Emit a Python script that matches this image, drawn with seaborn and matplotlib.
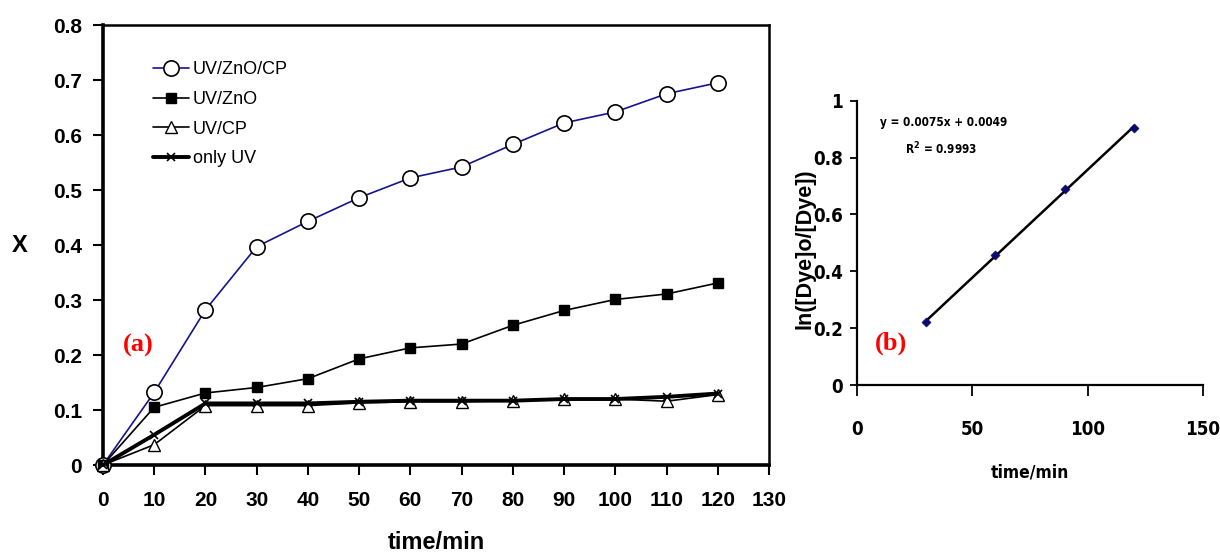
import numpy as np
import pandas as pd
import matplotlib
matplotlib.use("Agg")
import matplotlib.pyplot as plt
from matplotlib import font_manager
import seaborn as sns

# ---------------------------------------------------------------------------
# Data
# ---------------------------------------------------------------------------
time_min = [0, 10, 20, 30, 40, 50, 60, 70, 80, 90, 100, 110, 120]

x_uv_zno_cp = [0.0, 0.132, 0.282, 0.397, 0.443, 0.486, 0.522, 0.542, 0.583, 0.622, 0.642, 0.675, 0.695]
x_uv_zno    = [0.0, 0.105, 0.131, 0.141, 0.157, 0.193, 0.213, 0.220, 0.254, 0.281, 0.301, 0.311, 0.331]
x_uv_cp     = [0.0, 0.037, 0.108, 0.108, 0.108, 0.113, 0.115, 0.115, 0.117, 0.120, 0.120, 0.116, 0.128]
x_only_uv   = [0.0, 0.055, 0.112, 0.112, 0.112, 0.115, 0.117, 0.117, 0.117, 0.120, 0.120, 0.124, 0.130]

kin_time = [30, 60, 90, 120]
kin_ln   = [0.222, 0.456, 0.690, 0.903]

fit_label = "y = 0.0075x + 0.0049"
r2_label  = "R$^2$ = 0.9993"

x_ticks_a = [0, 10, 20, 30, 40, 50, 60, 70, 80, 90, 100, 110, 120, 130]
y_ticks_a = [0, 0.1, 0.2, 0.3, 0.4, 0.5, 0.6, 0.7, 0.8]
x_ticks_b = [0, 50, 100, 150]
y_ticks_b = [0, 0.2, 0.4, 0.6, 0.8, 1.0]

# ---------------------------------------------------------------------------
# Style
# ---------------------------------------------------------------------------
sns.set_style("white")
plt.rcParams["font.family"] = ["Liberation Sans", "DejaVu Sans"]
plt.rcParams["text.color"] = "black"
plt.rcParams["axes.labelcolor"] = "black"
plt.rcParams["xtick.color"] = "black"
plt.rcParams["ytick.color"] = "black"
plt.rcParams["mathtext.fontset"] = "custom"
plt.rcParams["mathtext.rm"] = "DejaVu Sans:bold"

# narrow face for panel (b), like Arial Narrow in the original
NARROW, NARROW_STRETCH = "Liberation Sans", "normal"
for f in font_manager.fontManager.ttflist:
    if f.name == "Liberation Sans Narrow":
        NARROW, NARROW_STRETCH = f.name, "normal"
        break
else:
    for f in font_manager.fontManager.ttflist:
        if f.name == "DejaVu Sans" and f.stretch in ("condensed", "semi-condensed"):
            NARROW, NARROW_STRETCH = "DejaVu Sans", "condensed"
            break

installed = {f.name for f in font_manager.fontManager.ttflist}
SERIF = "Liberation Serif" if "Liberation Serif" in installed else "DejaVu Serif"

fig = plt.figure(figsize=(12.2, 5.54), dpi=100)
ax1 = fig.add_axes([0.0844, 0.1606, 0.5459, 0.7942])
ax2 = fig.add_axes([0.7025, 0.3050, 0.2836, 0.5132])

# ---------------------------------------------------------------------------
# Panel (a)
# ---------------------------------------------------------------------------
df = pd.DataFrame({
    "time": time_min * 4,
    "X": x_uv_zno_cp + x_uv_zno + x_uv_cp + x_only_uv,
    "series": (["UV/ZnO/CP"] * len(time_min) + ["UV/ZnO"] * len(time_min)
               + ["UV/CP"] * len(time_min) + ["only UV"] * len(time_min)),
})

styles = {
    "UV/ZnO/CP": dict(color="#14148f", lw=1.2, marker="o", ms=11, mfc="white", mec="black", mew=1.2),
    "UV/ZnO":    dict(color="black", lw=1.2, marker="s", ms=7, mfc="black", mec="black", mew=1.0),
    "UV/CP":     dict(color="black", lw=1.2, marker="^", ms=9, mfc="white", mec="black", mew=1.0),
    "only UV":   dict(color="black", lw=2.8, marker="x", ms=6, mfc="black", mec="black", mew=1.2),
}

for name in ["UV/ZnO/CP", "UV/ZnO", "UV/CP", "only UV"]:
    st = styles[name]
    sub = df[df["series"] == name]
    sns.lineplot(data=sub, x="time", y="X", ax=ax1, label=name,
                 color=st["color"], linewidth=st["lw"], marker=st["marker"],
                 markersize=st["ms"], markerfacecolor=st["mfc"],
                 markeredgecolor=st["mec"], markeredgewidth=st["mew"],
                 clip_on=False, zorder=3)

ax1.set_xlim(0, 130)
ax1.set_ylim(0, 0.8)
ax1.set_xticks(x_ticks_a)
ax1.set_yticks(y_ticks_a)
ax1.set_xticklabels([str(t) for t in x_ticks_a])
ax1.set_yticklabels(["0" if v == 0 else f"{v:.1f}" for v in y_ticks_a])
ax1.tick_params(axis="x", direction="out", length=7, width=1.5, pad=12,
                labelsize=15, bottom=True)
ax1.tick_params(axis="y", direction="out", length=7, width=1.5, pad=8,
                labelsize=15, left=True)
for lab in ax1.get_xticklabels() + ax1.get_yticklabels():
    lab.set_fontweight("bold")

for side in ["left", "bottom"]:
    ax1.spines[side].set_linewidth(2.6)
    ax1.spines[side].set_color("black")
for side in ["top", "right"]:
    ax1.spines[side].set_linewidth(1.8)
    ax1.spines[side].set_color("black")
    ax1.spines[side].set_visible(True)

ax1.set_xlabel("time/min", fontsize=17, fontweight="bold", va="center")
ax1.xaxis.set_label_coords(0.5, -0.176)
ax1.set_ylabel("X", fontsize=17, fontweight="bold", rotation=0, va="center")
ax1.yaxis.set_label_coords(-0.125, 0.5)

leg = ax1.legend(loc="upper left", bbox_to_anchor=(0.064, 0.934), frameon=False,
                 fontsize=13, handlelength=2.0, handletextpad=0.2,
                 labelspacing=0.7, borderaxespad=0)

ax1.text(6.8, 0.218, "(a)", color="red", fontsize=19, fontweight="bold",
         family=SERIF, ha="center", va="center")

# ---------------------------------------------------------------------------
# Panel (b)
# ---------------------------------------------------------------------------
slope, intercept = np.polyfit(kin_time, kin_ln, 1)
fit_x = np.array([kin_time[0], kin_time[-1]])
sns.lineplot(x=fit_x, y=slope * fit_x + intercept, ax=ax2, color="black", linewidth=1.8)
sns.scatterplot(x=kin_time, y=kin_ln, ax=ax2, marker="D", s=22, color="#0a0a6e",
                edgecolor="#0a0a6e", zorder=4)

ax2.set_xlim(0, 150)
ax2.set_ylim(0, 1)
ax2.set_xticks(x_ticks_b)
ax2.set_yticks(y_ticks_b)
ax2.set_xticklabels([str(t) for t in x_ticks_b])
ax2.set_yticklabels(["0" if v == 0 else ("1" if v == 1 else f"{v:.1f}") for v in y_ticks_b])
ax2.tick_params(axis="x", direction="out", length=8, width=1.3, pad=17,
                labelsize=13.5, bottom=True)
ax2.tick_params(axis="y", direction="out", length=5, width=1.3, pad=5,
                labelsize=13.5, left=True)
for lab in ax2.get_xticklabels() + ax2.get_yticklabels():
    lab.set_fontweight("bold")
    lab.set_family(NARROW)
    lab.set_fontstretch(NARROW_STRETCH)

for side in ["left", "bottom"]:
    ax2.spines[side].set_linewidth(1.6)
    ax2.spines[side].set_color("black")
ax2.spines["top"].set_visible(False)
ax2.spines["right"].set_visible(False)

ax2.set_xlabel("time/min", fontsize=12.5, fontweight="bold", family=NARROW,
               fontstretch=NARROW_STRETCH, va="center")
ax2.xaxis.set_label_coords(0.5, -0.306)
ax2.set_ylabel("ln([Dye]o/[Dye])", fontsize=15.5, fontweight="bold", va="center")
ax2.yaxis.set_label_coords(-0.150, 0.48)

ax2.text(10, 0.923, fit_label, fontsize=8.5, fontweight="bold", family=NARROW,
         fontstretch=NARROW_STRETCH, ha="left", va="center")
ax2.text(21, 0.83, r2_label, fontsize=8.5, fontweight="bold", family=NARROW,
         fontstretch=NARROW_STRETCH, ha="left", va="center")
ax2.text(14.7, 0.148, "(b)", color="red", fontsize=19, fontweight="bold",
         family=SERIF, ha="center", va="center")

fig.savefig("out.png", dpi=100, facecolor="white")
